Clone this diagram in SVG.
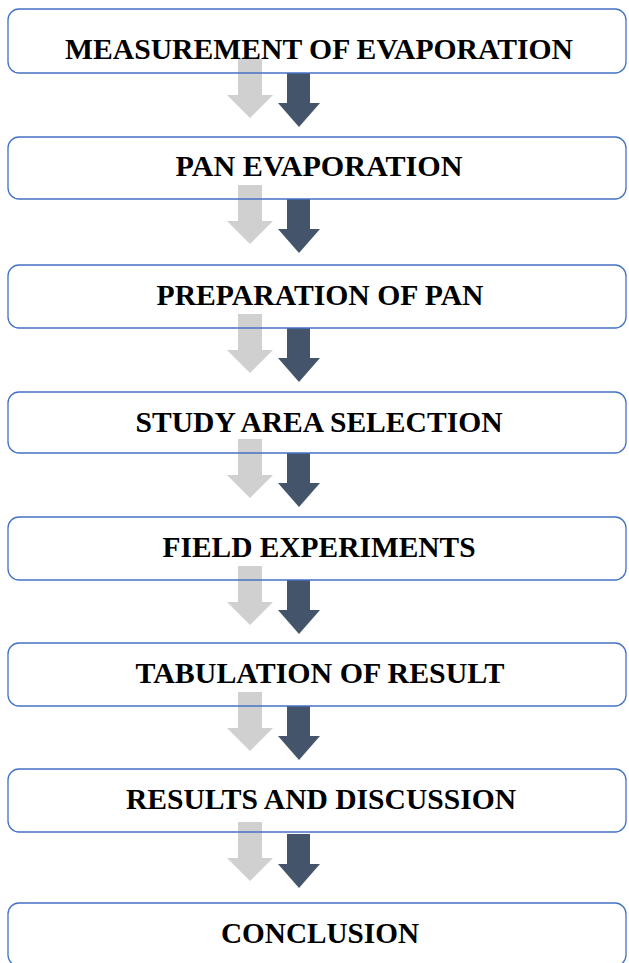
<svg xmlns="http://www.w3.org/2000/svg" width="629" height="963" viewBox="0 0 629 963">
<style>
.box{fill:none;stroke:#4472C4;stroke-width:1.3}
.t{font-family:"Liberation Serif","Times New Roman",serif;font-weight:bold;font-size:30px;fill:#000;text-anchor:middle}
.lt{fill:#D0D0D0}
.dk{fill:#44546A}
</style>
<defs>
<path id="la" d="M238,0 H262 V36 H273 L250,59 L227,36 H238 Z"/>
<path id="da" d="M287,0 H310 V30 H320 L299,54 L278,30 H287 Z"/>
</defs>
<rect width="629" height="963" fill="#fff"/>
<g id="connectors">
<use href="#la" class="lt" y="59"/><use href="#da" class="dk" y="73"/>
<use href="#la" class="lt" y="185"/><use href="#da" class="dk" y="199"/>
<use href="#la" class="lt" y="314"/><use href="#da" class="dk" y="328"/>
<use href="#la" class="lt" y="439"/><use href="#da" class="dk" y="453"/>
<use href="#la" class="lt" y="566"/><use href="#da" class="dk" y="580"/>
<use href="#la" class="lt" y="692"/><use href="#da" class="dk" y="706"/>
<use href="#la" class="lt" y="822"/><use href="#da" class="dk" y="834"/>
</g>
<g id="n1"><rect class="box" x="8" y="9" width="618" height="64" rx="11"/><text class="t" x="319" y="59" textLength="508" lengthAdjust="spacingAndGlyphs">MEASUREMENT OF EVAPORATION</text></g>
<g id="n2"><rect class="box" x="8" y="137" width="618" height="62" rx="11"/><text class="t" x="319" y="176" textLength="287" lengthAdjust="spacingAndGlyphs">PAN EVAPORATION</text></g>
<g id="n3"><rect class="box" x="8" y="265" width="618" height="63" rx="11"/><text class="t" x="320" y="305" textLength="327" lengthAdjust="spacingAndGlyphs">PREPARATION OF PAN</text></g>
<g id="n4"><rect class="box" x="8" y="392" width="618" height="61" rx="11"/><text class="t" x="319" y="432" textLength="367" lengthAdjust="spacingAndGlyphs">STUDY AREA SELECTION</text></g>
<g id="n5"><rect class="box" x="8" y="517" width="618" height="63" rx="11"/><text class="t" x="319" y="557" textLength="313" lengthAdjust="spacingAndGlyphs">FIELD EXPERIMENTS</text></g>
<g id="n6"><rect class="box" x="8" y="643" width="618" height="63" rx="11"/><text class="t" x="320" y="683" textLength="369" lengthAdjust="spacingAndGlyphs">TABULATION OF RESULT</text></g>
<g id="n7"><rect class="box" x="8" y="769" width="618" height="63" rx="11"/><text class="t" x="321" y="809" textLength="390" lengthAdjust="spacingAndGlyphs">RESULTS AND DISCUSSION</text></g>
<g id="n8"><rect class="box" x="8" y="903" width="618" height="63" rx="11"/><text class="t" x="320" y="943" textLength="198" lengthAdjust="spacingAndGlyphs">CONCLUSION</text></g>
</svg>
